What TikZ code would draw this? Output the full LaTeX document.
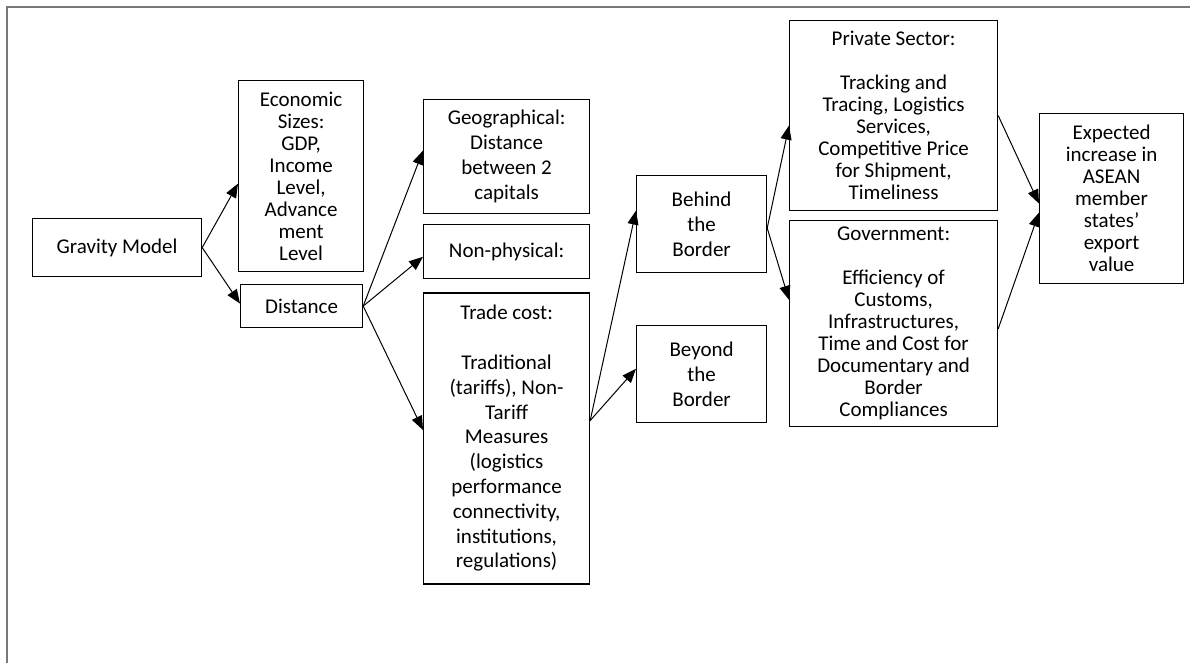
\documentclass[tikz,border=0pt]{standalone}
\usepackage{fontspec}
\setmainfont{Carlito}
\usepackage{tikz}
\usetikzlibrary{positioning, arrows.meta}
\definecolor{framegray}{RGB}{120,120,120}
\tikzset{
	box/.style={draw, line width=.6pt, inner sep=0pt, align=center, font=\fontsize{10.5}{11}\selectfont},
	widebox/.style={box, font=\fontsize{10.5}{12.4}\selectfont},
	link/.style={-{Triangle[length=7pt,width=5.5pt]}, line width=.5pt}
}
\begin{document}
\begin{tikzpicture}[x=.5pt, y=-.5pt]
	\useasboundingbox (0,0) rectangle (1190,663);
	\draw[framegray, line width=1pt] (1190,7) -- (7,7) -- (7,663);
%		left part
		\node[anchor=north west] (gravity) at (32,218) [box, minimum width=84.5pt, minimum height=29pt] {Gravity Model};
		\node[anchor=north west] (sizes) at (238,80) [box, minimum width=62.5pt, minimum height=95.5pt] {Economic\\ Sizes:\\ GDP,\\ Income\\ Level,\\ Advance\\ ment\\ Level};
		\node[anchor=north west] (distance) at (240,284) [box, minimum width=61pt, minimum height=21.5pt] {Distance};
		\node[anchor=north west] (geo) at (423,99) [widebox, minimum width=83pt, minimum height=57pt] {Geographical:\\ Distance\\ between 2\\ capitals};
		\node[below=5pt of geo] (nonphys) [widebox, minimum width=83pt, minimum height=27pt] {Non-physical:};
		\node[below=6.5pt of nonphys] (tradecost) [widebox, minimum width=83pt, minimum height=145.5pt] {Trade cost:\\[12.4pt] Traditional\\ (tariffs), Non-\\ Tariff\\ Measures\\ (logistics\\ performance\\ connectivity,\\ institutions,\\ regulations)};
%		right part
		\node[anchor=north west] (behind) at (636,175) [widebox, minimum width=65pt, minimum height=48.5pt] {Behind\\ the\\ Border};
		\node[below=26pt of behind] (beyond) [widebox, minimum width=65pt, minimum height=48.5pt] {Beyond\\ the\\ Border};
		\node[anchor=north west] (private) at (789,20) [box, minimum width=104pt, minimum height=95pt] {Private Sector:\\[11pt] Tracking and\\ Tracing, Logistics\\ Services,\\ Competitive Price\\ for Shipment,\\ Timeliness};
		\node[below=4.5pt of private] (government) [box, minimum width=104pt, minimum height=103pt] {Government:\\[11pt] Efficiency of\\ Customs,\\ Infrastructures,\\ Time and Cost for\\ Documentary and\\ Border\\ Compliances};
		\node[anchor=north west] (export) at (1039,113) [box, minimum width=72pt, minimum height=85pt] {Expected\\ increase in\\ ASEAN\\ member\\ states’\\ export\\ value};
		
		\draw[link] (gravity.east) -- ([yshift=-3.75pt]sizes.west);
		\draw[link] (gravity.east) -- ([yshift=1.25pt]distance.west);
		\draw[link] (distance.east) -- ([yshift=3pt]geo.west);
		\draw[link] (distance.east) -- ([yshift=-2.5pt]nonphys.west);
		\draw[link] (distance.east) -- ([yshift=4.25pt]tradecost.west);
		\draw[link] ([yshift=9pt]tradecost.east) -- ([yshift=6.75pt]behind.west);
		\draw[link] ([yshift=9pt]tradecost.east) -- ([yshift=2.75pt]beyond.west);
		\draw[link] ([yshift=-2pt]behind.east) -- ([yshift=-5pt]private.west);
		\draw[link] ([yshift=-2pt]behind.east) -- ([yshift=12pt]government.west);
		\draw[link] (private.east) -- ([yshift=-2.5pt]export.west);
		\draw[link] ([yshift=-2.5pt]government.east) -- ([yshift=-7pt]export.west);
	\end{tikzpicture}
\end{document}
